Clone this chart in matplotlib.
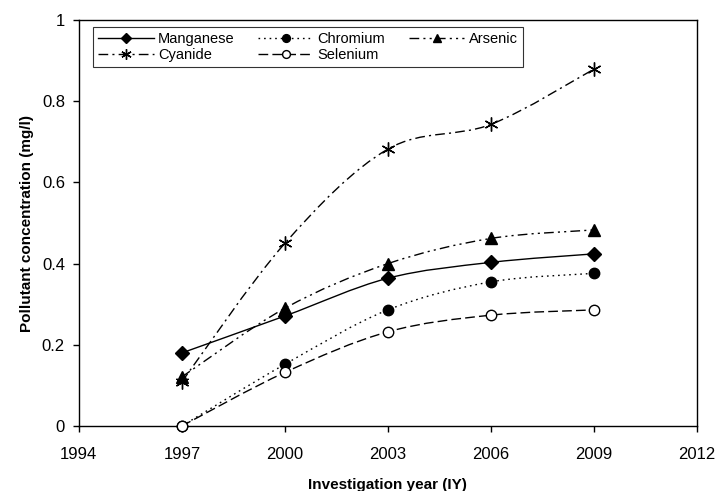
import matplotlib
matplotlib.use("Agg")
import matplotlib.pyplot as plt
from matplotlib.path import Path
from matplotlib.patches import PathPatch
from matplotlib.lines import Line2D
import numpy as np

plt.rcParams['font.family'] = ['Liberation Sans', 'DejaVu Sans']

years = [1997, 2000, 2003, 2006, 2009]
manganese = [0.18, 0.271, 0.364, 0.403, 0.424]
chromium = [0.0, 0.152, 0.286, 0.355, 0.376]
arsenic = [0.121, 0.29, 0.40, 0.462, 0.483]
cyanide = [0.109, 0.45, 0.682, 0.743, 0.879]
selenium = [0.0, 0.132, 0.232, 0.273, 0.286]


def smooth_path(x, y):
    # excel-like smoothed line: cubic bezier through every point
    p = np.column_stack([x, y]).astype(float)
    n = len(p)
    verts = [p[0]]
    codes = [Path.MOVETO]
    for i in range(n - 1):
        p0 = p[i - 1] if i > 0 else p[i]
        p3 = p[i + 2] if i + 2 < n else p[i + 1]
        c1 = p[i] + (p[i + 1] - p0) / 6.0
        c2 = p[i + 1] - (p3 - p[i]) / 6.0
        verts += [c1, c2, p[i + 1]]
        codes += [Path.CURVE4] * 3
    return Path(verts, codes)


fig = plt.figure(figsize=(7.17, 4.91), dpi=100)
ax = fig.add_axes([0.110, 0.1324, 0.862, 0.8268])

series = [
    ('Manganese', manganese, '-', 'D', 'k', 7),
    ('Chromium', chromium, (0, (1.2, 2.8)), 'o', 'k', 7.5),
    ('Arsenic', arsenic, (0, (7, 3, 1.5, 3, 1.5, 3)), '^', 'k', 8),
    ('Cyanide', cyanide, (0, (7, 3, 1.5, 3)), (6, 2, 0), 'k', 10),
    ('Selenium', selenium, (0, (7, 3)), 'o', 'w', 7.5),
]

handles = {}
for name, vals, ls, mk, face, ms in series:
    patch = PathPatch(smooth_path(years, vals), facecolor='none',
                      edgecolor='black', linewidth=1.0, linestyle=ls,
                      zorder=2)
    ax.add_patch(patch)
    ax.plot(years, vals, linestyle='none', marker=mk, markersize=ms,
            markerfacecolor=face, markeredgecolor='black',
            markeredgewidth=1.0, zorder=3, clip_on=False)
    handles[name] = Line2D([], [], color='black', linewidth=1.0,
                           linestyle=ls, marker=mk, markersize=ms * 0.75,
                           markerfacecolor=face, markeredgecolor='black')

ax.set_xlim(1994, 2012)
ax.set_ylim(0, 1)
ax.set_xticks(range(1994, 2013, 3))
ax.set_yticks([0, 0.2, 0.4, 0.6, 0.8, 1])
ax.set_yticklabels(['0', '0.2', '0.4', '0.6', '0.8', '1'])
ax.tick_params(direction='out', length=4, width=1, labelsize=12)
ax.tick_params(axis='x', pad=11)
ax.tick_params(axis='y', pad=6)
for s in ax.spines.values():
    s.set_linewidth(1.0)

ax.set_xlabel('Investigation year (IY)', fontsize=11, fontweight='bold',
              labelpad=12)
ax.set_ylabel('Pollutant concentration (mg/l)', fontsize=11,
              fontweight='bold', labelpad=6)

order = ['Manganese', 'Cyanide', 'Chromium', 'Selenium', 'Arsenic']
leg = ax.legend([handles[k] for k in order], order, ncol=3,
                loc='upper left', bbox_to_anchor=(0.023, 0.983),
                borderaxespad=0, fontsize=10.5, frameon=True,
                fancybox=False, edgecolor='black', handlelength=3.8,
                handletextpad=0.3, columnspacing=1.6, labelspacing=0.15,
                borderpad=0.35, numpoints=1)
leg.get_frame().set_linewidth(0.8)

fig.savefig('out.png', dpi=100)
